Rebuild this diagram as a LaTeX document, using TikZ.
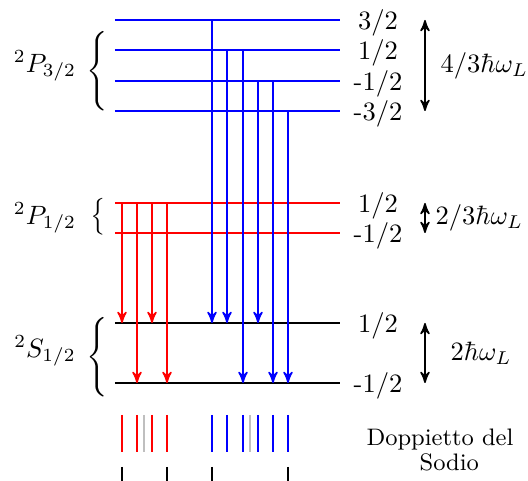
\documentclass[tikz,border=0pt]{standalone}
\usepackage{amsmath}
\usepackage{tikz}
\usetikzlibrary{arrows,calc}

\begin{document}
\begin{tikzpicture}[x=0.013263cm,y=-0.013263cm,
    livello/.style={thick},
    transiz/.style={semithick,-stealth'},
    riga/.style={thick},
    mj/.style={inner sep=0pt},
    salto/.style={semithick,stealth'-stealth'}]
\useasboundingbox (0,0) rectangle (528,481);

% livelli 2P_{3/2}
\foreach \n/\y/\m in {pa/20/{$3/2$},pb/50/{$1/2$},pc/81/{-$1/2$},pd/111/{-$3/2$}}{
  \coordinate (\n) at (115,\y);
  \coordinate (\n e) at (340,\y);
  \draw[livello,blue] (\n) -- (\n e);
  \node[mj] (\n m) at (378,\y+3) {\m};
}
% livelli 2P_{1/2}
\foreach \n/\y/\m in {ra/203/{$1/2$},rb/233/{-$1/2$}}{
  \coordinate (\n) at (115,\y);
  \coordinate (\n e) at (340,\y);
  \draw[livello,red] (\n) -- (\n e);
  \node[mj] (\n m) at (378,\y+3) {\m};
}
% livelli 2S_{1/2}
\foreach \n/\y/\m in {sa/323/{$1/2$},sb/383/{-$1/2$}}{
  \coordinate (\n) at (115,\y);
  \coordinate (\n e) at (340,\y);
  \draw[livello,black] (\n) -- (\n e);
  \node[mj] (\n m) at (378,\y+3) {\m};
}

% termini
\node (Pt) at (45,66) {$^2P_{3/2}$};
\node (Ptb) at (97,71) {$\Bigg\{$};
\node (Pu) at (45,218) {$^2P_{1/2}$};
\node (Pub) at (98,216.5) {\scalebox{1}[1.16]{$\big\{$}};
\node (Su) at (45,351) {$^2S_{1/2}$};
\node (Sub) at (97,357) {$\Bigg\{$};

% transizioni D1
\foreach \x/\a/\b in {122/ra/sa,137/ra/sb,152/ra/sa,167/ra/sb}
  \draw[transiz,red] (\x,0 |- \a) -- (\x,0 |- \b);
% transizioni D2
\foreach \x/\a/\b in {212/pa/sa,227/pb/sa,243/pb/sb,258/pc/sa,273/pc/sb,288/pd/sb}
  \draw[transiz,blue] (\x,0 |- \a) -- (\x,0 |- \b);

% separazioni
\draw[salto] (425,0 |- pa) -- (425,0 |- pd);
\node[mj,anchor=west] (dP3) at (440,66) {$4/3\hbar\omega_L$};
\draw[salto] (425,0 |- ra) -- (425,0 |- rb);
\node[mj,anchor=west] (dP1) at (435,218) {$2/3\hbar\omega_L$};
\draw[salto] (425,0 |- sa) -- (425,0 |- sb);
\node[mj,anchor=west] (dS) at (450,353) {$2\hbar\omega_L$};

% spettro
\foreach \x in {122,137,152,167}
  \draw[riga,red] (\x,415) -- (\x,452);
\foreach \x in {212,227,243,258,273,288}
  \draw[riga,blue] (\x,415) -- (\x,452);
\foreach \x in {144,250}
  \draw[riga,lightgray] (\x,415) -- (\x,452);
\foreach \x in {122,167,212,288}
  \draw[line width=0.5pt] (\x,467) -- (\x,481);

\node[font=\small,align=center] (dopp) at (440,450) {Doppietto del\\[-1.5pt]\hspace*{7pt}Sodio};
\end{tikzpicture}
\end{document}
